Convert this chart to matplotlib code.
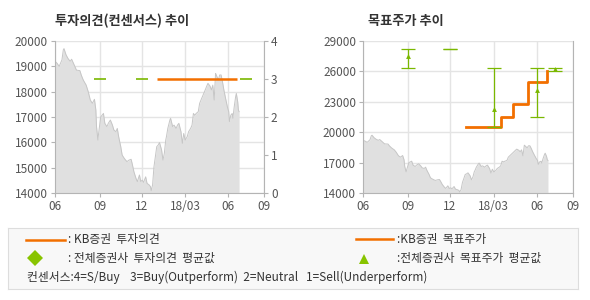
import numpy as np
import matplotlib
matplotlib.use('Agg')
from matplotlib import pyplot as plt

plt.rcParams['font.family'] = ['Noto Sans CJK KR', 'DejaVu Sans']

# x axis = trading-day index
tick_days = [0, 65, 125, 188, 250, 302]
tick_labels = ['06', '09', '12', '18/03', '06', '09']

# daily close
day = [0, 3, 6, 10, 12, 13, 16, 19, 22, 24, 27, 31, 36, 38, 41, 45, 48, 51, 54, 57,
       59, 60, 62, 63, 66, 70, 72, 75, 77, 80, 83, 85, 88, 90, 92, 95, 97, 100, 102, 104,
       107, 110, 112, 114, 117, 119, 122, 124, 126, 128, 131, 133, 136, 138, 139, 141, 143, 145, 147, 149,
       151, 154, 156, 158, 160, 161, 163, 166, 167, 170, 172, 175, 177, 179, 182, 184, 186, 188, 191, 193,
       196, 198, 200, 202, 204, 207, 209, 212, 214, 216, 219, 221, 224, 226, 228, 230, 232, 233, 236, 238,
       240, 242, 244, 246, 249, 251, 252, 254, 256, 257, 259, 261, 262, 264, 265, 266]
price = [19200, 19120, 19000, 19250, 19650, 19700, 19450, 19300, 19200, 19280, 19100, 18850, 18830, 18650, 18450, 18260, 18000, 17670, 17540, 17700,
         17280, 16620, 16090, 16350, 17000, 17140, 16750, 16620, 16750, 16880, 16680, 16490, 16420, 16550, 16220, 15830, 15500, 15370, 15300, 15240,
         15300, 15330, 15100, 14840, 14580, 14450, 14710, 14450, 14510, 14420, 14640, 14380, 14320, 14250, 14090, 14320, 15040, 15430, 15830, 15890,
         15990, 15700, 15300, 15570, 16090, 16220, 16550, 16880, 16950, 16620, 16680, 16550, 16680, 16750, 16420, 15960, 16350, 16090, 16220, 16420,
         16550, 16680, 17140, 17070, 17140, 17210, 17540, 17740, 17870, 18000, 18200, 18330, 18220, 18070, 18260, 17670, 18720, 18660, 18460, 18660,
         18660, 18390, 18070, 17800, 17410, 17210, 16820, 17070, 17140, 16950, 17410, 17800, 17930, 17600, 17280, 17210]

# KB opinion (3 = Buy)
kb_op_days = [147, 263]
kb_op = [3, 3]
avg_op_days = [65, 125, 276]
avg_op = [3, 3, 3]

# KB target price
kb_tp_days = [148, 199, 216, 238, 264]
kb_tp = [20500, 21500, 22800, 25000, 26000]

# all brokers target price: mean / min / max
avg_tp_days = [65, 125, 188, 250, 276]
avg_tp = [27500, 28200, 22300, 24200, 26200]
min_tp = [26300, 28200, 20500, 21500, 26000]
max_tp = [28200, 28200, 26300, 26300, 26300]

ORANGE = '#f26f00'
GREEN = '#7ab800'
GRID = '#e4e4e4'
SPINE = '#b4b4b4'
TXT = '#555555'


def base_axes(ax, yticks):
    ax.fill_between(day, price, yticks[0], color='#e0e0e0', lw=0)
    ax.plot(day, price, color='#c6c6c6', lw=0.7)
    ax.set_xlim(tick_days[0], tick_days[-1])
    ax.set_ylim(yticks[0], yticks[-1])
    ax.set_xticks(tick_days)
    ax.set_xticklabels(tick_labels)
    ax.set_yticks(yticks)
    ax.grid(True, color=GRID, lw=1)
    ax.set_axisbelow(True)
    ax.tick_params(colors=SPINE, labelcolor=TXT, labelsize=8.5, length=3, pad=2)
    for s in ['left', 'bottom', 'right']:
        ax.spines[s].set_color(SPINE)
    ax.spines['top'].set_visible(False)


fig = plt.figure(figsize=(5.9, 3.0), dpi=100)

# left: consensus opinion
ax1 = fig.add_axes([55 / 590, 1 - 193 / 300, 209 / 590, 152 / 300])
base_axes(ax1, list(range(14000, 20001, 1000)))
ax1b = ax1.twinx()
ax1b.set_ylim(0, 4)
ax1b.set_yticks([0, 1, 2, 3, 4])
ax1b.tick_params(colors=SPINE, labelcolor=TXT, labelsize=8.5, length=3, pad=2)
for s in ax1b.spines.values():
    s.set_visible(False)
ax1b.plot(kb_op_days, kb_op, color=ORANGE, lw=1.8, solid_capstyle='butt')
ax1b.plot(avg_op_days, avg_op, ls='none', marker='_', ms=9, mew=1.2, color=GREEN)
fig.text(55 / 590, 1 - 21 / 300, '투자의견(컨센서스) 추이', fontsize=9.5, fontweight='bold',
         color='#333333', va='center')

# right: target price
ax2 = fig.add_axes([363 / 590, 1 - 193 / 300, 210 / 590, 152 / 300])
base_axes(ax2, list(range(14000, 29001, 3000)))
ax2.plot(kb_tp_days, kb_tp, color=ORANGE, lw=2, drawstyle='steps-post')
err = [np.array(avg_tp) - np.array(min_tp), np.array(max_tp) - np.array(avg_tp)]
ax2.errorbar(avg_tp_days, avg_tp, yerr=err, fmt='none', ecolor=GREEN,
             elinewidth=0.9, capsize=5, capthick=0.9)
# mean marker only where there is a spread
spread = np.array(max_tp) > np.array(min_tp)
ax2.plot(np.array(avg_tp_days)[spread], np.array(avg_tp)[spread], ls='none',
         marker='^', ms=3.5, color=GREEN, mew=0)
fig.text(368 / 590, 1 - 21 / 300, '목표주가 추이', fontsize=9.5, fontweight='bold',
         color='#333333', va='center')

# legend box
lg = fig.add_axes([8 / 590, 1 - 289 / 300, 570 / 590, 61 / 300])
lg.set_xlim(0, 570)
lg.set_ylim(61, 0)
lg.set_facecolor('#f8f8f8')
lg.set_xticks([])
lg.set_yticks([])
for s in lg.spines.values():
    s.set_color('#dddddd')
lt = dict(fontsize=8.5, color='#333333', va='center')
lg.plot([18, 57], [12, 12], color=ORANGE, lw=1.8)
lg.text(60, 12, ': KB증권  투자의견', **lt)
lg.plot([27], [30], marker='D', ms=8, color='#88c400', mew=0)
lg.text(60, 30, ': 전체증권사  투자의견  평균값', **lt)
lg.plot([348, 385], [11, 11], color=ORANGE, lw=1.8)
lg.text(389, 12, ':KB증권  목표주가', **lt)
lg.plot([356], [31], marker='^', ms=7, color='#88c400', mew=0)
lg.text(389, 30, ':전체증권사  목표주가  평균값', **lt)
lg.text(19, 49, '컨센서스:4=S/Buy    3=Buy(Outperform)  2=Neutral   1=Sell(Underperform)', **lt)

fig.savefig('out.png', dpi=100)
